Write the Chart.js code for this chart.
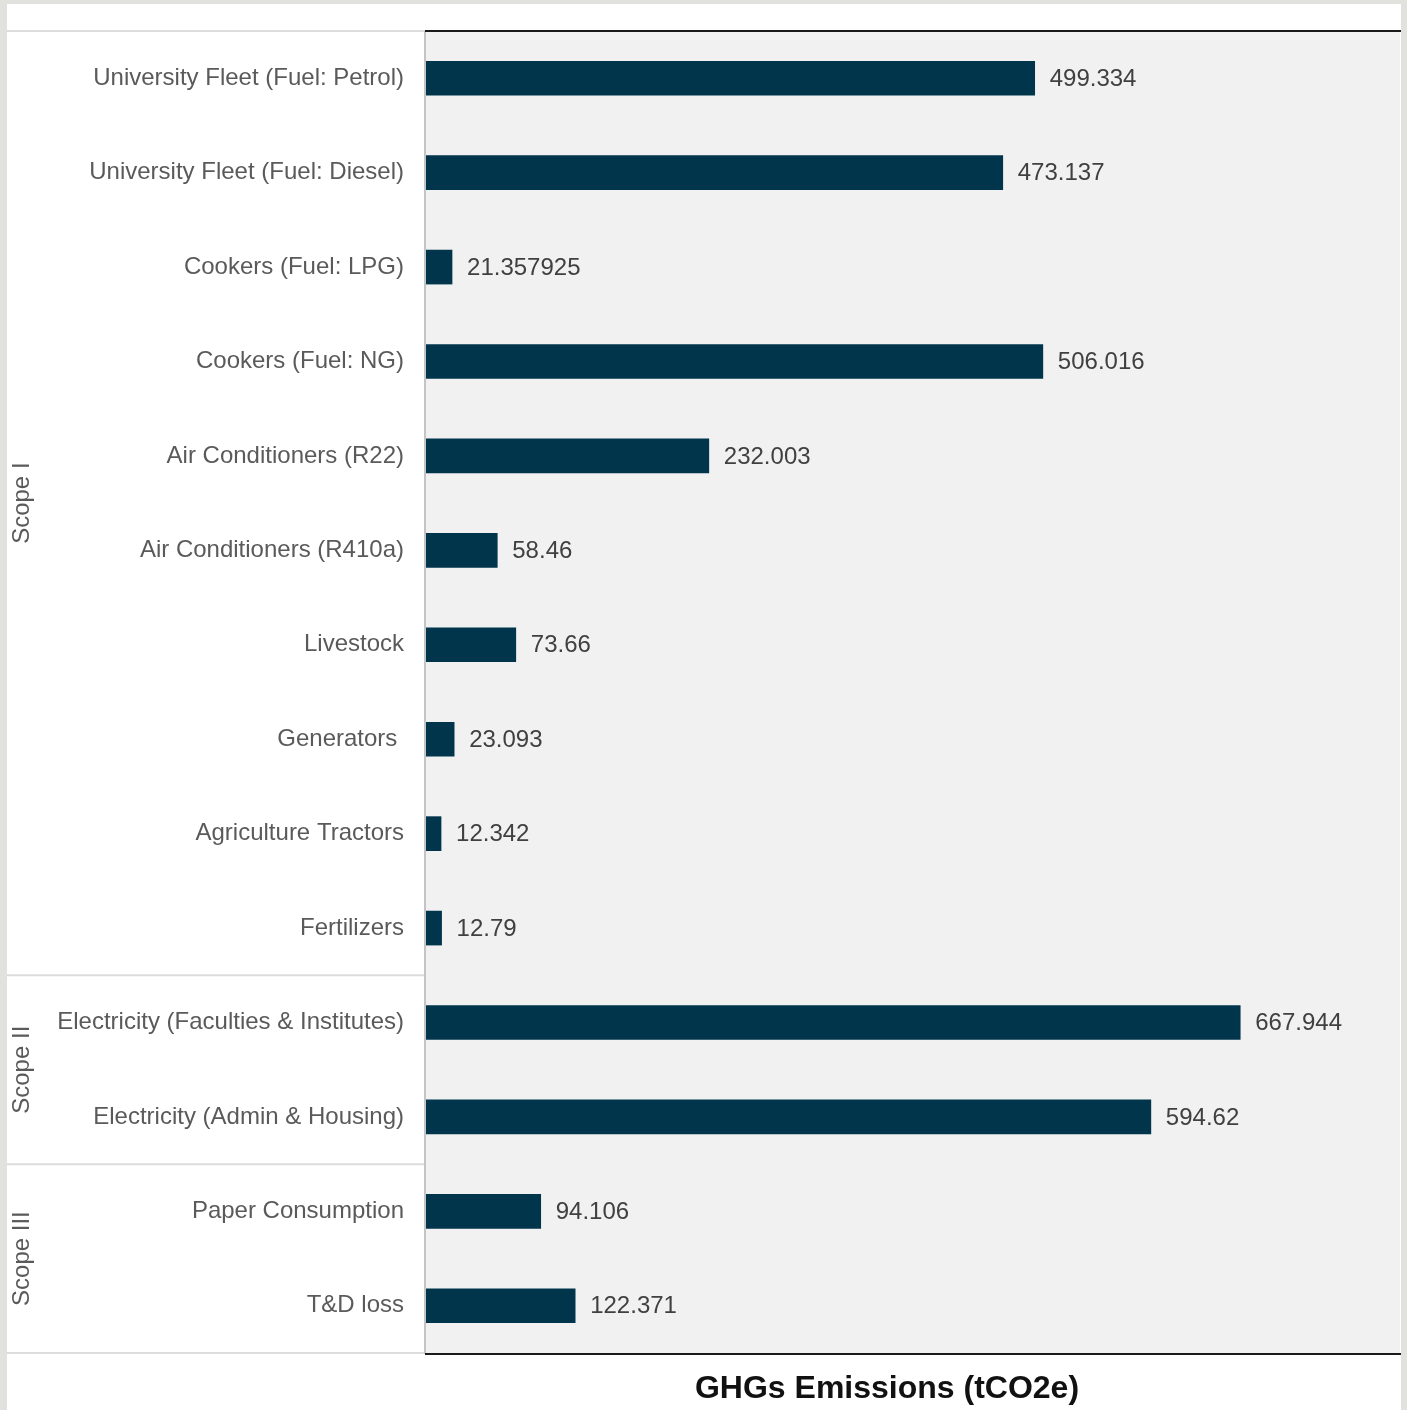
<!DOCTYPE html>
<html lang="en">
<head>
    <meta charset="UTF-8">
    <title>GHGs Emissions</title>
    <script src="https://cdn.jsdelivr.net/npm/chart.js"></script>
    <style>
        html, body {
            margin: 0;
            padding: 0;
            background: #e1e1dd;
        }
        #wrap {
            width: 1407px;
            height: 1410px;
        }
    </style>
</head>
<body>
<div id="wrap">
    <canvas id="emissionsChart" width="1407" height="1410"></canvas>
</div>

<script>
    // Emission sources, top to bottom
    const categories = [
        "University Fleet (Fuel: Petrol)",
        "University Fleet (Fuel: Diesel)",
        "Cookers (Fuel: LPG)",
        "Cookers (Fuel: NG)",
        "Air Conditioners (R22)",
        "Air Conditioners (R410a)",
        "Livestock",
        "Generators ",
        "Agriculture Tractors",
        "Fertilizers",
        "Electricity (Faculties & Institutes)",
        "Electricity (Admin & Housing)",
        "Paper Consumption",
        "T&D loss"
    ];
    const emissions = [499.334, 473.137, 21.357925, 506.016, 232.003, 58.46, 73.66, 23.093, 12.342, 12.79, 667.944, 594.62, 94.106, 122.371];

    // Scope groups and how many sources each one holds
    const scopes = ["Scope I", "Scope II", "Scope III"];
    const scopeSizes = [10, 2, 2];

    const axisTitle = "GHGs Emissions (tCO2e)";
    const FONT = "'Liberation Sans', Arial, sans-serif";

    // Card, plot background, group separators, scope names, values and title
    const decorations = {
        id: "decorations",
        beforeDraw(chart) {
            const { ctx, chartArea: a } = chart;
            ctx.save();
            ctx.fillStyle = "#e1e1dd";
            ctx.fillRect(0, 0, chart.width, chart.height);
            ctx.fillStyle = "#ffffff";
            ctx.fillRect(7, 4, 1394, chart.height - 4);
            ctx.fillStyle = "#f1f1f1";
            ctx.fillRect(a.left, a.top, a.right - a.left, a.bottom - a.top);
            ctx.restore();
        },
        afterDraw(chart) {
            const { ctx, chartArea: a } = chart;
            const y = chart.scales.y;
            ctx.save();

            // group boundaries on the label side
            const bounds = [a.top];
            let idx = 0;
            scopeSizes.forEach(n => {
                idx += n;
                bounds.push(idx >= categories.length ? a.bottom
                    : (y.getPixelForValue(idx - 1) + y.getPixelForValue(idx)) / 2);
            });
            ctx.strokeStyle = "#dcdcdc";
            ctx.lineWidth = 2;
            bounds.forEach(b => {
                ctx.beginPath();
                ctx.moveTo(7, b);
                ctx.lineTo(a.left - 1, b);
                ctx.stroke();
            });

            // left edge of plot
            ctx.strokeStyle = "#c4c4c4";
            ctx.lineWidth = 2;
            ctx.beginPath();
            ctx.moveTo(a.left - 1, a.top);
            ctx.lineTo(a.left - 1, a.bottom + 1);
            ctx.stroke();

            // top and bottom rules
            ctx.strokeStyle = "#1a1a1a";
            ctx.lineWidth = 2;
            [a.top, a.bottom + 1].forEach(b => {
                ctx.beginPath();
                ctx.moveTo(a.left - 1, b);
                ctx.lineTo(1401, b);
                ctx.stroke();
            });

            // scope names, rotated
            ctx.fillStyle = "#5a5a5a";
            ctx.font = "24px " + FONT;
            ctx.textAlign = "center";
            ctx.textBaseline = "middle";
            scopes.forEach((s, i) => {
                const cy = (bounds[i] + bounds[i + 1]) / 2;
                ctx.save();
                ctx.translate(22, cy);
                ctx.rotate(-Math.PI / 2);
                ctx.fillText(s, 0, 0);
                ctx.restore();
            });

            // value labels at bar ends
            ctx.fillStyle = "#404040";
            ctx.textAlign = "left";
            chart.getDatasetMeta(0).data.forEach((bar, i) => {
                ctx.fillText(String(emissions[i]), bar.x + 15, bar.y + 1);
            });

            // axis title
            ctx.fillStyle = "#111111";
            ctx.font = "bold 32px " + FONT;
            ctx.textAlign = "center";
            ctx.fillText(axisTitle, 887, 1389);
            ctx.restore();
        }
    };

    new Chart(document.getElementById("emissionsChart").getContext("2d"), {
        type: "bar",
        data: {
            labels: categories,
            datasets: [{
                data: emissions,
                backgroundColor: "#01354c",
                barThickness: 34
            }]
        },
        options: {
            indexAxis: "y",
            responsive: false,
            animation: false,
            layout: { padding: { left: 7, top: 31, right: 7, bottom: 57 } },
            plugins: {
                legend: { display: false },
                tooltip: { enabled: false }
            },
            scales: {
                x: {
                    display: false,
                    min: 0,
                    max: 799
                },
                y: {
                    afterFit(scale) {
                        scale.width = 419;
                        scale.paddingTop = 0;
                        scale.paddingBottom = 0;
                    },
                    grid: { display: false, drawTicks: false },
                    border: { display: false },
                    ticks: {
                        padding: 22,
                        color: "#5a5a5a",
                        font: { family: FONT, size: 24 }
                    }
                }
            }
        },
        plugins: [decorations]
    });
</script>
</body>
</html>
